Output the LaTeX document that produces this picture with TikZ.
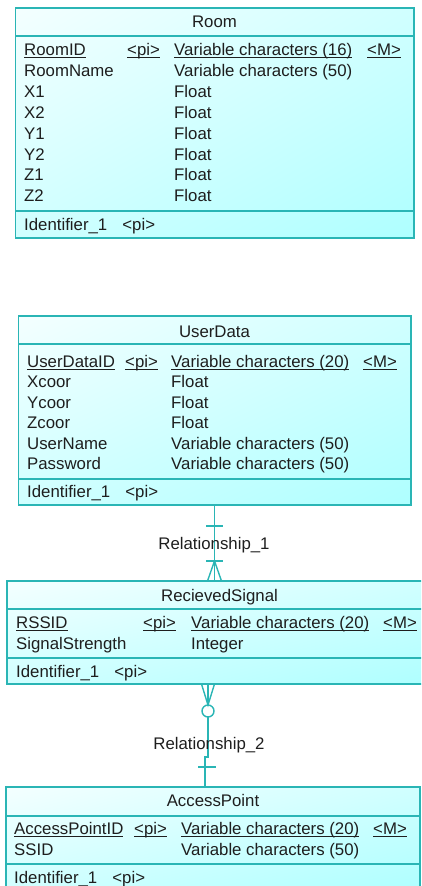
\documentclass[tikz,border=0pt]{standalone}
\usepackage{fontspec}
\setmainfont{Liberation Sans}
\usetikzlibrary{shadings}

\definecolor{erline}{HTML}{2AB5B5}
\definecolor{erlight}{HTML}{F4FFFF}
\definecolor{ermid}{HTML}{D0FFFF}
\definecolor{erdark}{HTML}{AEFFFF}
\definecolor{ertext}{HTML}{1E1E1E}

\newcommand{\erfont}{\fontsize{16.8}{18}\selectfont}
% key attributes: a thin rule just below the baseline
\newcommand{\erkey}[1]{\setbox0=\hbox{#1}\rlap{\rule[-2.4pt]{\wd0}{0.9pt}}\box0}

\tikzset{
  entity/.style={draw=erline, line width=1.4pt,
    upper left=erlight, upper right=ermid, lower left=ermid, lower right=erdark,
    inner sep=0pt, outer sep=0pt, anchor=north west},
  sepline/.style={draw=erline, line width=1.4pt},
  txt/.style={anchor=base west, inner sep=0pt, text=ertext, font=\erfont},
  ttl/.style={anchor=base, inner sep=0pt, text=ertext, font=\erfont},
  rel/.style={draw=erline, line width=1.4pt},
  rellabel/.style={anchor=base, inner sep=0pt, text=ertext, font=\erfont}
}

\begin{document}
\begin{tikzpicture}[x=1pt, y=-1pt]
\useasboundingbox (0,0) rectangle (421,886);
\clip (0,0) rectangle (421,886);

% ---------------- Room ----------------
\node[entity, minimum width=398.5pt, minimum height=230pt] (room) at (15.5,8) {};
\draw[sepline] (15.5,36) -- (414,36);
\draw[sepline] (15.5,211) -- (414,211);
\node[ttl] (room-t) at (214.5,27.9) {Room};
\node[txt] (room-k1) at (24,55.9)  {\erkey{RoomID}};
\node[txt] (room-k2) at (127,55.9) {\erkey{<pi>}};
\node[txt] (room-k3) at (174,55.9) {\erkey{Variable characters (16)}};
\node[txt] (room-k4) at (367,55.9) {\erkey{<M>}};
\node[txt] (room-n1) at (24,76.8)  {RoomName};
\node[txt] (room-n2) at (174,76.8) {Variable characters (50)};
\foreach \nm [count=\i] in {X1,X2,Y1,Y2,Z1,Z2} {
  \node[txt] (room-a\i) at (24,{76.8+20.8*\i}) {\nm};
  \node[txt] (room-b\i) at (174,{76.8+20.8*\i}) {Float};
}
\node[txt] (room-id) at (24,230.9) {Identifier\_1\hspace{0.9em}<pi>};

% ---------------- UserData ----------------
\node[entity, minimum width=392.5pt, minimum height=189pt] (ud) at (18.5,316) {};
\draw[sepline] (18.5,344) -- (411,344);
\draw[sepline] (18.5,479) -- (411,479);
\node[ttl] (ud-t) at (214.5,337.9) {UserData};
\node[txt] (ud-k1) at (27,367.4)  {\erkey{UserDataID}};
\node[txt] (ud-k2) at (125,367.4) {\erkey{<pi>}};
\node[txt] (ud-k3) at (171,367.4) {\erkey{Variable characters (20)}};
\node[txt] (ud-k4) at (363,367.4) {\erkey{<M>}};
\foreach \nm/\ty [count=\i] in {Xcoor/Float,Ycoor/Float,Zcoor/Float,
    UserName/Variable characters (50),Password/Variable characters (50)} {
  \node[txt] (ud-a\i) at (27,{367.4+20.5*\i}) {\nm};
  \node[txt] (ud-b\i) at (171,{367.4+20.5*\i}) {\ty};
}
\node[txt] (ud-id) at (27,497.9) {Identifier\_1\hspace{0.9em}<pi>};

% ---------------- RecievedSignal ----------------
\node[entity, minimum width=425pt, minimum height=103pt] (rs) at (7,581) {};
\draw[sepline] (7,609) -- (432,609);
\draw[sepline] (7,658) -- (432,658);
\node[ttl] (rs-t) at (219.5,601.9) {RecievedSignal};
\node[txt] (rs-k1) at (16,628.9)  {\erkey{RSSID}};
\node[txt] (rs-k2) at (143,628.9) {\erkey{<pi>}};
\node[txt] (rs-k3) at (191,628.9) {\erkey{Variable characters (20)}};
\node[txt] (rs-k4) at (383,628.9) {\erkey{<M>}};
\node[txt] (rs-a1) at (16,649.9)  {SignalStrength};
\node[txt] (rs-b1) at (191,649.9) {Integer};
\node[txt] (rs-id) at (16,677.9) {Identifier\_1\hspace{0.9em}<pi>};

% ---------------- AccessPoint ----------------
\node[entity, minimum width=414pt, minimum height=105pt] (ap) at (6,787) {};
\draw[sepline] (6,816) -- (420,816);
\draw[sepline] (6,864) -- (420,864);
\node[ttl] (ap-t) at (213,806.9) {AccessPoint};
\node[txt] (ap-k1) at (14,834.9)  {\erkey{AccessPointID}};
\node[txt] (ap-k2) at (134,834.9) {\erkey{<pi>}};
\node[txt] (ap-k3) at (181,834.9) {\erkey{Variable characters (20)}};
\node[txt] (ap-k4) at (373,834.9) {\erkey{<M>}};
\node[txt] (ap-a1) at (14,855.9)  {SSID};
\node[txt] (ap-b1) at (181,855.9) {Variable characters (50)};
\node[txt] (ap-id) at (14,883.9) {Identifier\_1\hspace{0.9em}<pi>};

% ---------------- Relationship_1: UserData (one) -- RecievedSignal (many) ----------------
\coordinate (r1top) at (214.5,505);
\coordinate (r1bot) at (214.5,581);
\coordinate (r1tick) at (214.5,526);
\coordinate (r1apex) at (214.5,561);
\draw[rel] (r1top) -- (r1bot);
\draw[rel] ([xshift=-8.5pt]r1tick) -- ([xshift=8.5pt]r1tick);
\draw[rel] ([xshift=-8.5pt]r1apex) -- ([xshift=8.5pt]r1apex);
\draw[rel] ([xshift=-7pt]r1bot) -- (r1apex) -- ([xshift=7pt]r1bot);
\node[rellabel] (r1lab) at (214,549) {Relationship\_1};

% ---------------- Relationship_2: RecievedSignal (many, optional) -- AccessPoint (one) ----------------
\coordinate (r2top) at (208,684);
\coordinate (r2apex) at (208,705);
\coordinate (r2circ) at (208,711);
\coordinate (r2low) at (208,717);
\coordinate (r2jog) at (208,757);
\coordinate (r2jog2) at (205,757);
\coordinate (r2bot) at (205,787);
\coordinate (r2tick) at (207,767);
\draw[rel] (r2top) -- (r2apex);
\draw[rel] ([xshift=-6.5pt]r2top) -- (r2apex) -- ([xshift=6.5pt]r2top);
\draw[rel] (r2circ) circle (6pt);
\draw[rel] (r2low) -- (r2jog) -- (r2jog2) -- (r2bot);
\draw[rel] ([xshift=-9pt]r2tick) -- ([xshift=9pt]r2tick);
\node[rellabel] (r2lab) at (209,749) {Relationship\_2};
\end{tikzpicture}
\end{document}
